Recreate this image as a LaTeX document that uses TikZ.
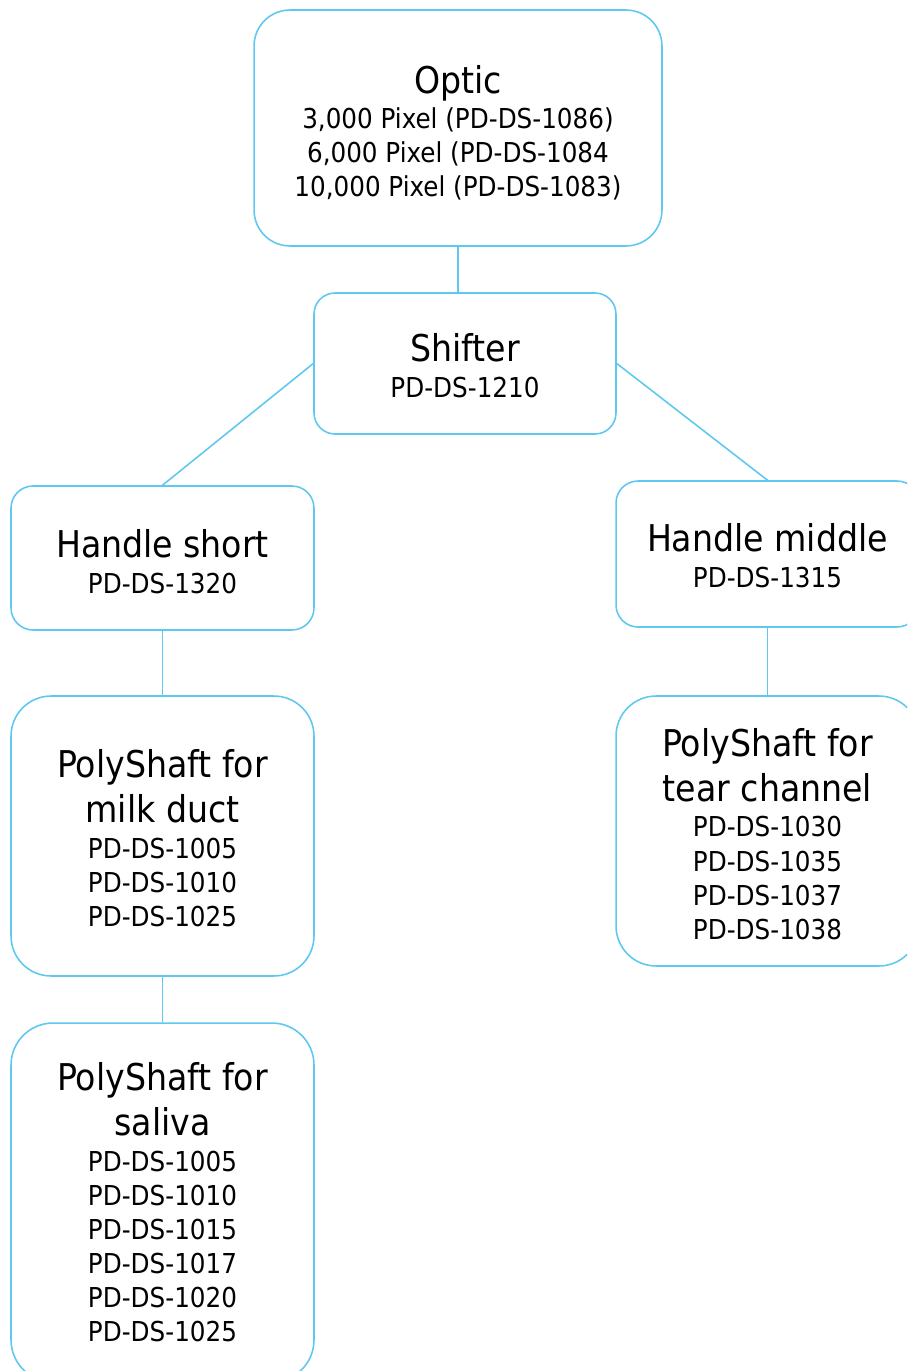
\documentclass[tikz,border=0pt]{standalone}
\usepackage{fontspec}
\setmainfont{DejaVu Sans Condensed}
\usepackage{tikz}

\definecolor{edgeblue}{RGB}{95,200,240}
\newcommand\ttl[1]{{\fontsize{21}{25.6}\selectfont #1}}
\newcommand\lift[1]{\rule{0pt}{#1}}

\begin{document}
\begin{tikzpicture}[x=0.02cm,y=-0.02cm,
	part/.style={draw=edgeblue,line width=0.9pt,align=center,inner sep=0pt,
		font=\fontsize{15.6}{19.4}\selectfont,minimum width=6.06cm},
	link/.style={draw=edgeblue,line width=0.9pt}]
			\clip (0,0) rectangle (907,1371);
			\node[part,minimum width=8.16cm,minimum height=4.72cm,rounded corners=0.72cm] (opt) at (458,128)
				{\ttl{\lift{21.7pt}Optic}\\[0.3pt]3,000 Pixel (PD-DS-1086)\\6,000 Pixel (PD-DS-1084\\10,000 Pixel (PD-DS-1083)};
			\node[part,minimum width=6.04cm,minimum height=2.82cm,rounded corners=0.42cm] (shf) at (465,363.5)
				{\ttl{\lift{18.3pt}Shifter}\\[1.3pt]PD-DS-1210};
			\node[part,minimum height=2.88cm,rounded corners=0.44cm] (hs) at (162.5,558)
				{\ttl{\lift{20pt}Handle short}\\[1.3pt]PD-DS-1320};
			\node[part,minimum height=2.92cm,rounded corners=0.44cm] (hm) at (767.5,554)
				{\ttl{\lift{17.7pt}Handle middle}\\[1.3pt]PD-DS-1315};
			\node[part,minimum height=5.6cm,rounded corners=0.8cm] (pm) at (162.5,836)
				{\ttl{\lift{18.5pt}PolyShaft for}\\[4.3pt]\ttl{milk duct}\\[0.8pt]PD-DS-1005\\PD-DS-1010\\PD-DS-1025};
			\node[part,minimum height=5.4cm,rounded corners=0.8cm] (pt) at (767.5,831)
				{\ttl{\lift{19.4pt}PolyShaft for}\\[4.3pt]\ttl{tear channel}\\[0.8pt]PD-DS-1030\\PD-DS-1035\\PD-DS-1037\\PD-DS-1038};
			\node[part,minimum height=7.18cm,rounded corners=0.84cm] (ps) at (162.5,1202.5)
				{\ttl{PolyShaft for}\\[4.3pt]\ttl{saliva}\\[0.8pt]PD-DS-1005\\PD-DS-1010\\PD-DS-1015\\PD-DS-1017\\PD-DS-1020\\PD-DS-1025};
			\draw[link] (opt.south) -- (opt.south |- shf.north);
			\draw[link] (shf.west) -- (hs.north)
			(shf.east) -- (hm.north);
			\draw[link] (hs) -- (pm)
			(pm) -- (ps);
			\draw[link] (hm) -- (pt);
		\end{tikzpicture}
\end{document}
